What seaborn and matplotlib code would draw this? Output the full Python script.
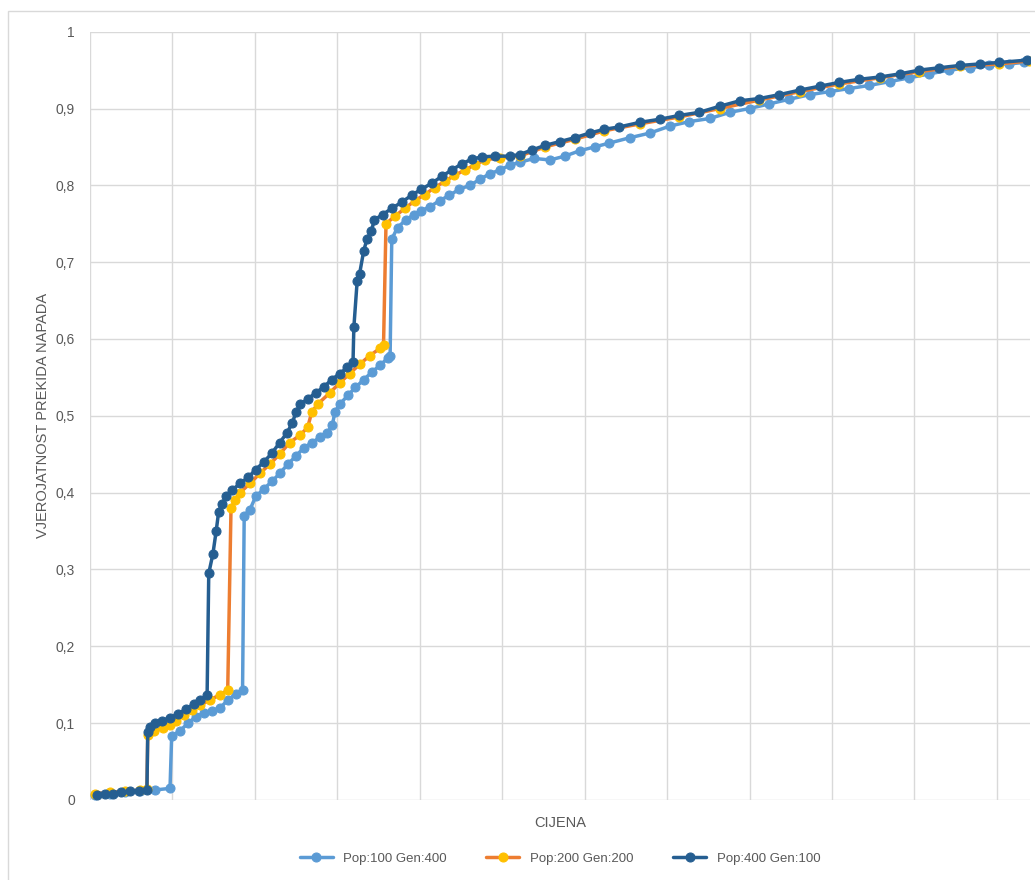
import numpy as np
import pandas as pd
import matplotlib
matplotlib.use("Agg")
import matplotlib.pyplot as plt
import seaborn as sns

# price (x) and probability (y), one pair of lists per run
x_pop100 = [6, 24, 42, 61, 79, 97, 99, 109, 119, 128, 138, 148, 158, 167, 177, 185, 187, 194, 201, 211,
            221, 230, 240, 250, 259, 269, 279, 288, 294, 297, 303, 313, 322, 332, 342, 352, 361, 364, 366,
            373, 383, 393, 402, 412, 424, 436, 448, 461, 473, 485, 497, 509, 521, 539, 558, 576, 594, 612,
            630, 655, 679, 703, 727, 752, 776, 800, 824, 848, 873, 897, 921, 945, 970, 994, 1018, 1042,
            1067, 1091, 1115, 1133]
y_pop100 = [0.006, 0.008, 0.010, 0.012, 0.013, 0.015, 0.083, 0.090, 0.100, 0.108, 0.113, 0.116, 0.120,
            0.130, 0.138, 0.143, 0.370, 0.378, 0.395, 0.405, 0.415, 0.425, 0.437, 0.448, 0.458, 0.465,
            0.472, 0.478, 0.488, 0.505, 0.515, 0.527, 0.537, 0.547, 0.557, 0.566, 0.575, 0.578, 0.730,
            0.745, 0.755, 0.762, 0.767, 0.772, 0.780, 0.787, 0.795, 0.800, 0.808, 0.815, 0.820, 0.826,
            0.830, 0.835, 0.833, 0.838, 0.845, 0.850, 0.855, 0.862, 0.868, 0.877, 0.883, 0.887, 0.895,
            0.900, 0.906, 0.912, 0.918, 0.922, 0.926, 0.930, 0.935, 0.940, 0.945, 0.950, 0.953, 0.956,
            0.958, 0.960]

x_pop200 = [6, 24, 42, 61, 69, 70, 78, 88, 97, 104, 114, 124, 133, 145, 158, 167, 171, 176, 182, 194,
            206, 218, 230, 242, 255, 264, 269, 276, 291, 303, 315, 327, 339, 352, 356, 359, 370, 382, 394,
            406, 418, 430, 442, 455, 467, 479, 497, 521, 552, 588, 624, 667, 715, 764, 812, 861, 909, 958,
            1006, 1055, 1103, 1139]
y_pop200 = [0.008, 0.010, 0.011, 0.013, 0.014, 0.085, 0.090, 0.093, 0.097, 0.103, 0.110, 0.117, 0.123,
            0.130, 0.137, 0.143, 0.380, 0.390, 0.400, 0.412, 0.425, 0.437, 0.450, 0.465, 0.475, 0.485,
            0.505, 0.515, 0.530, 0.543, 0.555, 0.567, 0.578, 0.588, 0.592, 0.750, 0.760, 0.770, 0.780,
            0.788, 0.797, 0.805, 0.813, 0.820, 0.827, 0.833, 0.836, 0.838, 0.850, 0.860, 0.871, 0.880,
            0.889, 0.900, 0.911, 0.922, 0.932, 0.940, 0.948, 0.955, 0.958, 0.962]

x_pop400 = [8, 18, 28, 38, 48, 59, 69, 70, 73, 79, 87, 97, 107, 116, 126, 133, 142, 144, 149, 153, 156,
            160, 165, 172, 182, 192, 201, 211, 221, 230, 239, 245, 250, 255, 264, 274, 284, 293, 303, 312,
            319, 320, 324, 327, 332, 336, 341, 345, 355, 366, 378, 390, 402, 415, 427, 439, 451, 463, 475,
            491, 509, 521, 536, 552, 570, 588, 606, 624, 642, 667, 691, 715, 739, 764, 788, 812, 836, 861,
            885, 909, 933, 958, 982, 1006, 1030, 1055, 1079, 1103, 1137]
y_pop400 = [0.007, 0.008, 0.008, 0.010, 0.011, 0.012, 0.013, 0.088, 0.095, 0.100, 0.103, 0.107, 0.112,
            0.118, 0.125, 0.130, 0.136, 0.295, 0.320, 0.350, 0.375, 0.385, 0.395, 0.403, 0.412, 0.420,
            0.430, 0.440, 0.452, 0.465, 0.478, 0.490, 0.505, 0.515, 0.522, 0.530, 0.538, 0.547, 0.555,
            0.563, 0.570, 0.615, 0.675, 0.685, 0.715, 0.730, 0.740, 0.755, 0.762, 0.770, 0.778, 0.787,
            0.795, 0.803, 0.812, 0.820, 0.828, 0.834, 0.837, 0.838, 0.838, 0.840, 0.846, 0.852, 0.857,
            0.862, 0.868, 0.873, 0.876, 0.882, 0.886, 0.891, 0.895, 0.903, 0.910, 0.913, 0.918, 0.924,
            0.929, 0.934, 0.938, 0.941, 0.945, 0.950, 0.953, 0.956, 0.958, 0.960, 0.963]

series = [
    ("Pop:100 Gen:400", x_pop100, y_pop100, "#5B9BD5", "#5B9BD5"),
    ("Pop:200 Gen:200", x_pop200, y_pop200, "#ED7D31", "#FFC000"),
    ("Pop:400 Gen:100", x_pop400, y_pop400, "#255E91", "#255E91"),
]

sns.set_theme(style="whitegrid", rc={"grid.color": "#D9D9D9", "grid.linewidth": 1.0})
plt.rcParams['font.family'] = ['Liberation Sans', 'DejaVu Sans']

fig = plt.figure(figsize=(10.35, 8.8), dpi=100)
ax = fig.add_axes([0.087, 0.091, 0.908, 0.873])

# light outer frame like the exported chart
fig.patches.append(plt.Rectangle((0.008, -0.01), 1.2, 0.997, transform=fig.transFigure,
                                 fill=False, edgecolor="#D9D9D9", linewidth=1.0))

for name, xs, ys, lc, mc in series:
    df = pd.DataFrame({"x": xs, "y": ys})
    sns.lineplot(data=df, x="x", y="y", ax=ax, color=lc, linewidth=2.5, marker="o",
                 markersize=6.5, markerfacecolor=mc, markeredgecolor=mc, label=name,
                 estimator=None, sort=False)

ax.set_xlim(0, 1140)
ax.set_ylim(0, 1)
ax.set_xticks(np.arange(0, 1141, 100))
ax.set_xticklabels([])
ax.set_yticks(np.arange(0, 1.01, 0.1))
ax.set_yticklabels(["0", "0,1", "0,2", "0,3", "0,4", "0,5", "0,6", "0,7", "0,8", "0,9", "1"])
ax.tick_params(axis="y", colors="#595959", labelsize=10, length=0, pad=11)
ax.tick_params(axis="x", length=0)
for s in ax.spines.values():
    s.set_visible(False)

ax.set_xlabel("CIJENA", color="#595959", fontsize=10.5, labelpad=8)
ax.set_ylabel("VJEROJATNOST PREKIDA NAPADA", color="#595959", fontsize=10.5, labelpad=4)

ax.legend(loc="upper center", bbox_to_anchor=(0.5, -0.053), ncol=3, frameon=False,
          fontsize=9.5, labelcolor="#595959", handlelength=2.5, columnspacing=3)

fig.savefig("out.png", dpi=100, facecolor="white")
